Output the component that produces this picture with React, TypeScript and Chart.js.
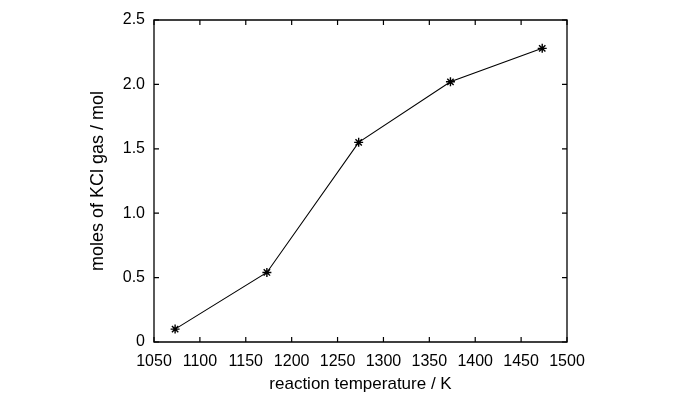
import React, { useEffect, useRef } from "react";
import { Chart, registerables } from "chart.js";

Chart.register(...registerables);

// ---- data ----
const temperatures = [1073, 1173, 1273, 1373, 1473];
const kclMoles = [0.1, 0.54, 1.55, 2.02, 2.28];
const xTickValues = [1050, 1100, 1150, 1200, 1250, 1300, 1350, 1400, 1450, 1500];
const yTickValues = [0, 0.5, 1.0, 1.5, 2.0, 2.5];
const xTitle = "reaction temperature / K";
const yTitle = "moles of KCl gas / mol";

const TICK_FONT = "'Liberation Sans', Arial, sans-serif";
const TITLE_FONT = "'Liberation Sans', Arial, sans-serif";

const framePlugin = {
  id: "frameTicks",
  afterDatasetsDraw(chart: any) {
    const { ctx, chartArea, scales } = chart;
    const { left, right, top, bottom } = chartArea;
    const len = 5;
    ctx.save();
    ctx.strokeStyle = "#000";
    ctx.lineWidth = 1.3;
    ctx.beginPath();
    ctx.rect(left, top, right - left, bottom - top);
    ctx.stroke();
    ctx.lineWidth = 1.2;
    ctx.beginPath();
    for (const v of xTickValues) {
      const x = scales.x.getPixelForValue(v);
      ctx.moveTo(x, bottom);
      ctx.lineTo(x, bottom - len);
      ctx.moveTo(x, top);
      ctx.lineTo(x, top + len);
    }
    for (const v of yTickValues) {
      const y = scales.y.getPixelForValue(v);
      ctx.moveTo(left, y);
      ctx.lineTo(left + len, y);
      ctx.moveTo(right, y);
      ctx.lineTo(right - len, y);
    }
    ctx.stroke();
    ctx.restore();
  },
};

export default function App() {
  const canvasRef = useRef<HTMLCanvasElement | null>(null);

  useEffect(() => {
    const canvas = canvasRef.current;
    if (!canvas) return;
    const chart = new Chart(canvas, {
      type: "line",
      data: {
        datasets: [
          {
            data: temperatures.map((t, i) => ({ x: t, y: kclMoles[i] })),
            borderColor: "#000",
            backgroundColor: "#000",
            borderWidth: 1.1,
            pointStyle: "star",
            pointRadius: 4.5,
            pointBorderWidth: 1.4,
            pointBorderColor: "#000",
            tension: 0,
            fill: false,
          },
        ],
      },
      options: {
        animation: false,
        responsive: false,
        maintainAspectRatio: false,
        devicePixelRatio: 1,
        layout: { padding: { left: 0, right: 133, top: 20, bottom: 0 } },
        plugins: {
          legend: { display: false },
          tooltip: { enabled: false },
        },
        scales: {
          x: {
            type: "linear",
            min: 1050,
            max: 1500,
            afterBuildTicks: (scale: any) => {
              scale.ticks = xTickValues.map((v) => ({ value: v }));
            },
            afterFit: (scale: any) => {
              scale.height = 56;
            },
            grid: { display: false, drawTicks: false },
            border: { display: false },
            ticks: {
              color: "#000",
              padding: 10,
              maxRotation: 0,
              autoSkip: false,
              font: { family: TICK_FONT, size: 16 },
              callback: (v: any) => String(v),
            },
            title: {
              display: true,
              text: xTitle,
              color: "#000",
              font: { family: TITLE_FONT, size: 17 },
              padding: { top: 0, bottom: 3 },
            },
          },
          y: {
            type: "linear",
            min: 0,
            max: 2.5,
            afterBuildTicks: (scale: any) => {
              scale.ticks = yTickValues.map((v) => ({ value: v }));
            },
            afterFit: (scale: any) => {
              scale.width = 154;
            },
            grid: { display: false, drawTicks: false },
            border: { display: false },
            ticks: {
              color: "#000",
              padding: 9,
              autoSkip: false,
              font: { family: TICK_FONT, size: 16 },
              callback: (v: any) => (Number(v) === 0 ? "0" : Number(v).toFixed(1)),
            },
            title: {
              display: true,
              text: yTitle,
              color: "#000",
              font: { family: TITLE_FONT, size: 18 },
              padding: { top: 87, bottom: 0 },
            },
          },
        },
      },
      plugins: [framePlugin],
    });
    return () => chart.destroy();
  }, []);

  return (
    <div style={{ position: "absolute", left: 0, top: 0, width: 700, height: 398, background: "#fff" }}>
      <canvas ref={canvasRef} width={700} height={398} style={{ width: 700, height: 398, display: "block" }} />
    </div>
  );
}
